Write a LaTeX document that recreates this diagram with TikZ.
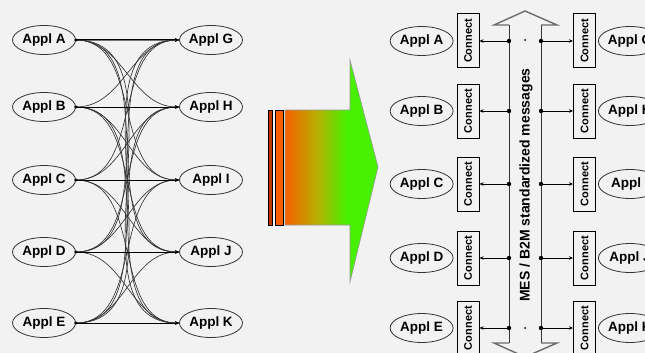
\documentclass[tikz,border=0pt]{standalone}
\usepackage{fontspec}
\setmainfont{Liberation Sans}
\usetikzlibrary{shapes.geometric,arrows.meta}
\definecolor{bggray}{RGB}{242,242,242}
\definecolor{migorange}{RGB}{245,95,0}
\definecolor{migred}{RGB}{195,55,0}
\definecolor{migolive}{RGB}{185,175,0}
\definecolor{miggreen}{RGB}{70,240,0}
\pgfdeclarehorizontalshading{migrate}{100bp}{color(0bp)=(migorange); color(25bp)=(migorange); color(42bp)=(migolive); color(58bp)=(miggreen); color(100bp)=(miggreen)}
\begin{document}
\begin{tikzpicture}[x=1pt,y=-1pt,
    appl/.style={ellipse,draw=black!80,line width=.8pt,minimum width=63pt,minimum height=29pt,inner sep=0pt,font=\bfseries\fontsize{13.5}{14}\selectfont},
    connbox/.style={draw,line width=1pt,minimum width=22pt,minimum height=54pt,inner sep=0pt},
    conntext/.style={rotate=90,inner sep=0pt,font=\bfseries\fontsize{11}{11}\selectfont},
    link/.style={draw=black!80,line width=.65pt,-{Stealth[length=4pt,width=3pt]}},
    buslink/.style={draw=black,line width=.9pt,-{Stealth[length=4pt,width=3.5pt]}}]
  \fill[bggray] (0,0) rectangle (645,353);
  \useasboundingbox (0,0) rectangle (645,353);
  % point to point
  \foreach \n/\y in {A/40,B/107,C/180,D/252,E/323}
    \node[appl] (l\n) at (44,\y) {Appl \n};
  \foreach \n/\y in {G/40,H/107,I/180,J/252,K/323}
    \node[appl] (r\n) at (211,\y) {Appl \n};
  \foreach \a in {A,B,C,D,E}
    \foreach \b in {G,H,I,J,K}
      \draw[link] (l\a.east) to[out=0,in=180] (r\b.west);
  \foreach \a/\b in {A/G,B/H,C/I,D/J,E/K}{
    \draw[line width=1pt,-{Stealth[length=4pt,width=3.5pt]}] (l\a.east) -- (r\b.west);
    \fill (l\a.east) circle (1.8);
  }
  % migration arrow
  \fill[migred,draw=black,line width=.6pt] (268,110) rectangle (272,225);
  \fill[migorange,draw=black,line width=.6pt] (275,110) rectangle (283,225);
  \shade[shading=migrate,draw=gray!80,line width=.6pt] (285,110) -- (350,110) -- (350,60)
    -- (378,167) -- (350,282) -- (350,225) -- (285,225) -- cycle;
  % bus
  \draw[black!80,line width=.7pt] (509,25) -- (509,343) (541,25) -- (541,343);
  \draw[gray!85!black,line width=1.4pt,line join=miter] (509,25) -- (494,25) -- (525,11) -- (557,25) -- (541,25);
  \draw[gray!85!black,line width=1.4pt,line join=miter] (509,343) -- (494,343) -- (525,357) -- (557,343) -- (541,343);
  \node[rotate=90,inner sep=0pt,font=\bfseries\fontsize{14}{14}\selectfont] (bustext) at (526,185) {MES / B2M standardized messages};
  \fill (525,40) circle (1) (525,328) circle (1);
  % adapters
  \foreach \n/\m/\y in {A/G/41,B/H/111,C/I/184,D/J/258,E/K/328}{
    \node[connbox] (cl\n) at (468,\y) {};
    \node[conntext] (tl\n) at (cl\n) {Connect};
    \node[appl,anchor=east] (al\n) at ([xshift=-3pt]cl\n.west) {Appl \n};
    \node[connbox] (cr\m) at (584.5,\y) {};
    \node[conntext] (tr\m) at (cr\m) {Connect};
    \node[appl,anchor=west] (ar\m) at ([xshift=2pt]cr\m.east) {Appl \m};
    \coordinate (busl\n) at (509,\y);
    \coordinate (busr\m) at (541,\y);
    \draw[buslink] (busl\n) -- (cl\n.east);
    \draw[buslink] (busr\m) -- (cr\m.west);
    \fill (busl\n) circle (2.2) (busr\m) circle (2.2);
  }
\end{tikzpicture}
\end{document}
